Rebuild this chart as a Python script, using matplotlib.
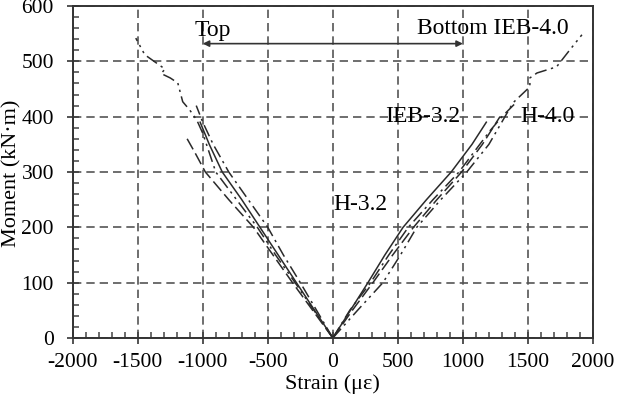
import matplotlib
matplotlib.use("Agg")
import matplotlib.pyplot as plt
from matplotlib.ticker import MultipleLocator

plt.rcParams['font.family'] = ['Liberation Serif', 'DejaVu Serif']

# ---- data (strain in micro-strain, moment in kN·m) ----
h32_top_x = [0, -140, -280, -420, -560, -700, -850, -950, -1020]
h32_top_y = [0, 50, 100, 150, 200, 250, 300, 350, 390]
h32_bot_x = [0, 135, 270, 400, 540, 720, 910, 1070, 1180]
h32_bot_y = [0, 50, 100, 150, 200, 250, 300, 350, 390]

ieb32_top_x = [0, -155, -310, -460, -610, -800, -980, -1060, -1120]
ieb32_top_y = [0, 50, 100, 150, 200, 250, 300, 335, 360]
ieb32_bot_x = [0, 150, 308, 460, 620, 800, 990, 1150, 1285]
ieb32_bot_y = [0, 50, 100, 150, 200, 250, 300, 350, 400]

h40_top_x = [0, -125, -250, -380, -500, -650, -800, -920, -1000, -1050]
h40_top_y = [0, 50, 100, 150, 200, 250, 300, 350, 390, 420]
h40_bot_x = [0, 130, 290, 430, 580, 770, 970, 1130, 1210, 1300, 1415]
h40_bot_y = [0, 50, 100, 150, 200, 250, 300, 350, 375, 400, 427]

ieb40_top_x = [0, -145, -290, -440, -580, -740, -900, -1000, -1046, -1100, -1154, -1192,
               -1250, -1320, -1290, -1446, -1515]
ieb40_top_y = [0, 50, 100, 150, 200, 250, 300, 370, 394, 412, 427, 461,
               470, 478, 486, 512, 542]
ieb40_bot_x = [0, 190, 385, 520, 645, 830, 1030, 1200, 1385, 1515, 1515, 1570, 1720,
               1823, 1915]
ieb40_bot_y = [0, 50, 100, 150, 200, 250, 300, 350, 425, 454, 470, 479, 490,
               521, 548]

x_ticks = [-2000, -1500, -1000, -500, 0, 500, 1000, 1500, 2000]
y_ticks = [0, 100, 200, 300, 400, 500, 600]

fig = plt.figure(figsize=(6.18, 4.09), dpi=100)
ax = fig.add_axes([0.1176, 0.1736, 0.8419, 0.8117])

lc = '#2a2a2a'
lw = 1.1
ax.plot(h32_top_x, h32_top_y, color=lc, lw=lw, ls='-')
ax.plot(h32_bot_x, h32_bot_y, color=lc, lw=lw, ls='-')
ax.plot(ieb32_top_x, ieb32_top_y, color=lc, lw=lw, ls=(0, (8, 3)))
ax.plot(ieb32_bot_x, ieb32_bot_y, color=lc, lw=lw, ls=(0, (8, 3)))
ax.plot(h40_top_x, h40_top_y, color=lc, lw=lw, ls=(0, (8, 3, 1.5, 3)))
ax.plot(h40_bot_x, h40_bot_y, color=lc, lw=lw, ls=(0, (8, 3, 1.5, 3)))
ax.plot(ieb40_top_x, ieb40_top_y, color=lc, lw=lw, ls=(0, (8, 3, 1.5, 3, 1.5, 3)))
ax.plot(ieb40_bot_x, ieb40_bot_y, color=lc, lw=lw, ls=(0, (8, 3, 1.5, 3, 1.5, 3)))

ax.set_xlim(-2000, 2000)
ax.set_ylim(0, 600)
ax.set_xticks(x_ticks)
ax.set_yticks(y_ticks)
ax.set_xticklabels([str(v) for v in x_ticks])
ax.set_yticklabels([str(v) for v in y_ticks])
ax.xaxis.set_minor_locator(MultipleLocator(100))
ax.yaxis.set_minor_locator(MultipleLocator(20))
ax.tick_params(which='major', direction='inout', length=9, width=1.3, color='#444444',
               labelsize=15.5)
ax.tick_params(axis='x', which='major', pad=6)
ax.tick_params(axis='y', which='major', pad=9)
ax.tick_params(which='minor', direction='in', length=4, width=1.1, color='#444444')
ax.tick_params(axis='x', which='both', top=False)
ax.tick_params(axis='y', which='both', right=False)

ax.grid(True, which='major', color='#555555', ls=(0, (5, 3)), lw=1.2)
for s in ax.spines.values():
    s.set_color('#333333')
    s.set_linewidth(1.4)

ax.set_xlabel('Strain (με)', fontsize=16, labelpad=2)
fig.text(12 / 618, 1 - 173 / 409, 'Moment (kN·m)', fontsize=16, rotation=90,
         ha='center', va='center')

ax.annotate('', xy=(-1000, 532), xytext=(1000, 532),
            arrowprops=dict(arrowstyle='<|-|>', color='#333333', lw=1.2,
                            mutation_scale=9, shrinkA=0, shrinkB=0))
ax.text(-920, 555, 'Top', fontsize=17, ha='center', va='center')
ax.text(1230, 560, 'Bottom IEB-4.0', fontsize=17, ha='center', va='center')
ax.text(690, 400, 'IEB-3.2', fontsize=17, ha='center', va='center')
ax.text(1650, 400, 'H-4.0', fontsize=17, ha='center', va='center')
ax.text(215, 242, 'H-3.2', fontsize=17, ha='center', va='center')

fig.savefig('out.png', dpi=100)
